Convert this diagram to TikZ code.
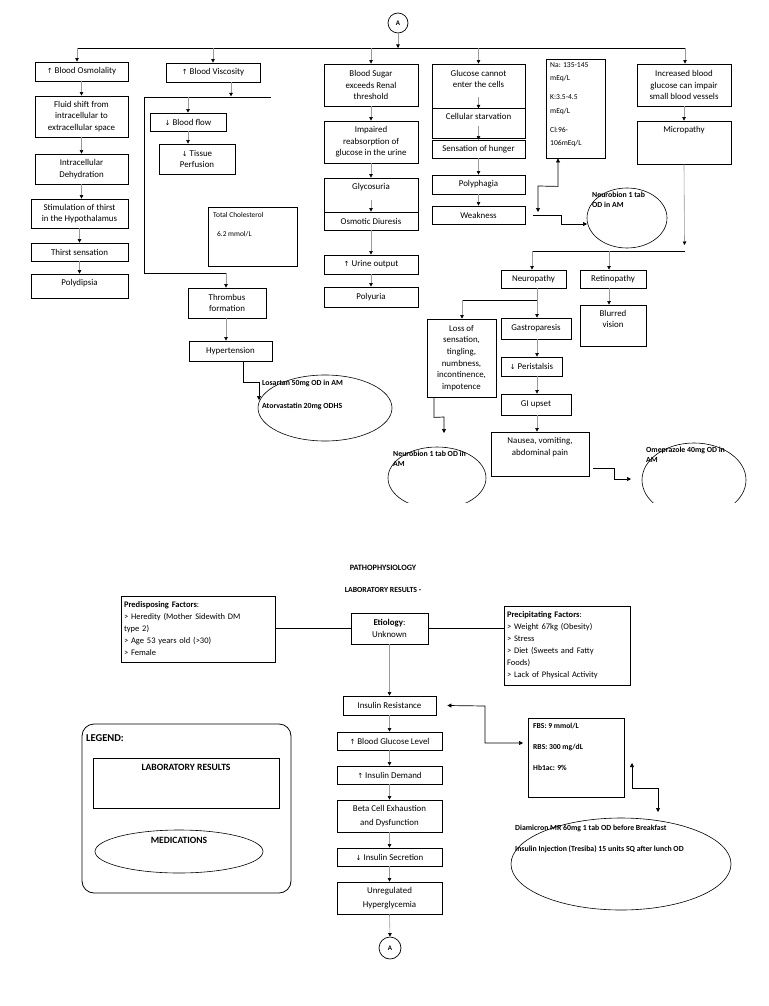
\documentclass[tikz,border=0pt]{standalone}
\usepackage{fontspec}
\setmainfont{Carlito}
\newfontfamily\arrfont{DejaVu Sans}
\usetikzlibrary{arrows.meta,shapes.geometric,calc}
\newcommand\fs{\fontsize{8.9}{11.6}\selectfont}
\newcommand\fsb{\fontsize{8.5}{12}\selectfont}
\newcommand\ms{\fontsize{7.8}{10}\selectfont\bfseries}
\newcommand\upa{{\arrfont\fontsize{7}{7}\selectfont ↑}}
\newcommand\dna{{\arrfont\fontsize{7}{7}\selectfont ↓}}
\newcommand\mybox[6]{\node[box, minimum width={#3-#2}, minimum height={#5-#4}] (#1) at ({(#2+#3)/2},{(#4+#5)/2}) {#6};}
\tikzset{
  box/.style={draw=black, line width=0.8pt, rectangle, inner sep=1pt, align=center, font=\fs},
  txt/.style={inner sep=0pt, align=center, font=\fs},
  ltxt/.style={inner sep=0pt, align=left, anchor=west},
  arr/.style={draw=black!40, line width=0.6pt, -{Triangle[length=3.5pt,width=3.5pt,color=black]}},
  conn/.style={draw=black, line width=0.7pt},
  carr/.style={draw=black, line width=0.7pt, -{Triangle[length=4pt,width=4pt]}},
  dcarr/.style={draw=black, line width=0.7pt, {Triangle[length=4pt,width=4pt]}-{Triangle[length=4pt,width=4pt]}},
  ell/.style={draw=black, line width=0.6pt, ellipse, inner sep=0pt},
}
\begin{document}
\begin{tikzpicture}[x=1pt,y=-1pt]
\useasboundingbox (0,0) rectangle (768,1006);
% ================= TOP SECTION =================
\node[circle, draw, line width=0.7pt, minimum size=20pt, inner sep=0pt, font=\bfseries\fontsize{7}{7}\selectfont] (A1) at (398,23) {A};
\coordinate (jA) at (398,48);
\coordinate (hL) at (77,48);
\coordinate (hR) at (685,48);
\coordinate (h2) at (213,48);
\coordinate (h3) at (371,48);
\coordinate (h4) at (478.5,48);
\draw[arr] (A1) -- (jA);
\draw[conn] (hL) -- (hR);

% column 1
\mybox{osm}{35}{128}{62}{81}{\upa\ Blood Osmolality}
\mybox{fluid}{35}{128}{96}{137}{Fluid shift from\\intracellular to\\extracellular space}
\mybox{dehyd}{35}{128}{154}{184}{Intracellular\\Dehydration}
\mybox{stim}{31}{128}{199}{228}{Stimulation of thirst\\in the Hypothalamus}
\mybox{thirst}{31}{128}{243}{261}{Thirst sensation}
\mybox{polyd}{31}{128}{274}{298}{}
\node[txt] (polydt) at (79.5,283) {Polydipsia};
\draw[arr] (hL) -- (hL |- osm.north);
\draw[arr] (osm.south) -- (osm.south |- fluid.north);
\draw[arr] (fluid.south) -- (fluid.south |- dehyd.north);
\draw[arr] (dehyd.south) -- (dehyd.south |- stim.north);
\draw[arr] (stim.south) -- (stim.south |- thirst.north);
\draw[arr] (thirst.south) -- (thirst.south |- polyd.north);

% column 2
\mybox{visc}{166}{260}{63}{82}{\upa\ Blood Viscosity}
\mybox{flow}{150}{226}{113}{131}{\dna\ Blood flow}
\mybox{tissue}{159}{235}{144}{174}{\dna\ Tissue\\Perfusion}
\mybox{chol}{208}{297}{207}{266}{}
\node[ltxt, font=\fontsize{7.4}{9}\selectfont] (cholt1) at (213,215) {Total Cholesterol};
\node[ltxt, font=\fontsize{7.4}{9}\selectfont] (cholt2) at (217,234) {6.2 mmol/L};
\mybox{thromb}{188}{266}{288}{318}{Thrombus\\formation}
\mybox{hyper}{189}{272}{341}{361}{Hypertension}
\coordinate (vL) at (144,97);
\coordinate (vR) at (271,97);
\coordinate (vF) at (188,97);
\coordinate (vB) at (144,273);
\coordinate (vT) at (226,273);
\draw[arr] (h2) -- (visc.north);
\draw[arr] ([xshift=18pt]visc.south) -- ++(0,14);
\draw[conn] (vL) -- (vR);
\draw[arr] (vF) -- (flow.north);
\draw[arr] (flow.south) -- (flow.south |- tissue.north);
\draw[conn] (vL) -- (vB) -- (vT);
\draw[arr] (vT) -- (vT |- thromb.north);
\draw[arr] ([xshift=-1pt]thromb.south) -- ([xshift=-1pt]thromb.south |- hyper.north);
\node[ell, minimum width=134, minimum height=66] (ell1) at (325,408) {};
\node[ltxt, font=\ms] (ell1a) at (262,383) {Losartan 50mg OD in AM};
\node[ltxt, font=\ms] (ell1b) at (262,406) {Atorvastatin 20mg ODHS};
\draw[carr] ([xshift=12.5pt]hyper.south) -- ++(0,21) -| (259,400);

% column 3
\mybox{sugar}{324}{418}{64}{106}{Blood Sugar\\exceeds Renal\\threshold}
\mybox{impair}{324}{418}{121}{163}{Impaired\\reabsorption of\\glucose in the urine}
\mybox{glyco}{324}{418}{178}{212}{}
\node[txt] (glycot) at (371,187) {Glycosuria};
\mybox{osmo}{324}{418}{212}{230}{Osmotic Diuresis}
\mybox{urine}{324}{418}{255}{274}{\upa\ Urine output}
\mybox{polyu}{324}{418}{287}{307}{Polyuria}
\draw[arr] (h3) -- (sugar.north);
\draw[arr] (sugar.south) -- (impair.north);
\draw[arr] (impair.south) -- (glyco.north);
\draw[arr] ([yshift=12pt]glyco.south) -- (osmo.north);
\draw[arr] (osmo.south) -- (urine.north);
\draw[arr] (urine.south) -- (polyu.north);

% column 4
\mybox{gluc}{432}{525}{64}{108}{}
\node[txt] (glucst) at (478.5,79) {Glucose cannot\\enter the cells};
\mybox{starv}{432}{525}{108}{138}{}
\node[txt] (starvt) at (478.5,116) {Cellular starvation};
\mybox{hunger}{432}{525}{140}{158}{Sensation of hunger}
\mybox{polyph}{432}{525}{175}{194}{Polyphagia}
\mybox{weak}{432}{525}{206}{224}{Weakness}
\draw[arr] (h4) -- (gluc.north);
\draw[arr] ([yshift=11pt]gluc.south) -- (gluc.south);
\draw[arr] ([yshift=12pt]starv.south) -- (hunger.north);
\draw[arr] (hunger.south) -- (polyph.north);
\draw[arr] (polyph.south) -- (weak.north);

% Na box
\mybox{na}{546}{605}{59}{158}{}
\node[ltxt, anchor=north west, font=\fontsize{7.6}{13.5}\selectfont] (nat) at (550,62) {Na: 135-145\\mEq/L\\[5.5pt]K:3.5-4.5\\mEq/L\\[5.5pt]Cl:96-\\106mEq/L};

% neurobion 1
\node[ell, minimum width=80, minimum height=60] (nb1) at (627,218) {};
\node[ltxt, anchor=north west, font=\ms] (nb1t) at (592,192) {Neurobion 1 tab\\OD in AM};
\coordinate (nb1in) at (587,224);
\draw[carr] ([xshift=8pt]weak.east) -- (561,215) -- (561,224) -- (nb1in);
\draw[dcarr] ([xshift=-17.5pt]na.south) -- ++(0,28) -- (538,186) -- (538,212);

% column 5
\mybox{incr}{637}{731}{64}{106}{Increased blood\\glucose can impair\\small blood vessels}
\mybox{micro}{637}{731}{121}{164}{}
\node[txt] (microt) at (684,130) {Micropathy};
\draw[arr] (hR) -- (hR |- incr.north);
\draw[arr] (incr.south) -- (micro.north);
\coordinate (mB) at (684.5,245);
\draw[arr] (micro.south) -- (mB);
\coordinate (nL) at (532,251);
\coordinate (nR) at (685,251);
\coordinate (nM) at (609,251);
\draw[conn] (nL) -- (nR);

\mybox{neurop}{501}{566}{270}{288}{Neuropathy}
\mybox{retin}{580}{646}{270}{288}{Retinopathy}
\mybox{blur}{580}{646}{305}{346}{}
\node[txt] (blurt) at (613,319) {Blurred\\vision};
\draw[arr] (nL) -- (nL |- neurop.north);
\draw[arr] (nM) -- (nM |- retin.north);
\draw[arr] (nM |- retin.south) -- (nM |- blur.north);

\mybox{loss}{427}{496}{319}{397}{Loss of\\sensation,\\tingling,\\numbness,\\incontinence,\\impotence}
\mybox{gastro}{501}{571}{318}{339}{Gastroparesis}
\mybox{peri}{501}{562}{357}{376}{\dna\ Peristalsis}
\mybox{giup}{501}{571}{394}{415}{GI upset}
\mybox{nausea}{491}{589}{432}{476}{}
\node[txt] (nauseat) at (540,447) {Nausea, vomiting,\\abdominal pain};
\coordinate (gS) at (537,300);
\coordinate (gL) at (462,300);
\draw[arr] (gS |- neurop.south) -- (gS |- gastro.north);
\draw[conn] (gL) -- (gS);
\draw[arr] (gL) -- (gL |- loss.north);
\draw[arr] (gS |- gastro.south) -- (gS |- peri.north);
\draw[arr] (gS |- peri.south) -- (gS |- giup.north);
\draw[arr] (gS |- giup.south) -- (gS |- nausea.north);

\begin{scope}
\clip (0,0) rectangle (768,502);
\node[ell, minimum width=98, minimum height=62] (nb2) at (437,478) {};
\node[ell, minimum width=104, minimum height=74] (omep) at (694,480) {};
\end{scope}
\node[ltxt, anchor=north west, font=\ms] (nb2t) at (393,451) {Neurobion 1 tab OD in\\AM};
\node[ltxt, anchor=north west, font=\ms] (omept) at (646,447) {Omeprazole 40mg OD in\\AM};
\draw[carr] ([xshift=-27.5pt]loss.south) -- ++(0,20) -- (444,417) -- (444,433);
\draw[carr] ([shift={(4pt,-14pt)}]nausea.east) -- (614,468) -- (614,479) -- (631,479);

% ================= BOTTOM SECTION =================
\node[font=\bfseries\fontsize{8.2}{9}\selectfont, inner sep=0pt] (title) at (383,568) {PATHOPHYSIOLOGY};
\node[font=\bfseries\fontsize{7.8}{9}\selectfont, inner sep=0pt] (sub) at (383,590) {LABORATORY RESULTS -};

\node[box, minimum width=154, minimum height=66, align=left, text width=148, font=\fsb] (pred) at (198,629) {\textbf{Predisposing Factors}:\\> Heredity (Mother Sidewith DM\\type 2)\\> Age 53 years old (>30)\\> Female};
\mybox{etio}{351}{428}{613}{644}{\textbf{Etiology}:\\Unknown}
\node[box, minimum width=126, minimum height=79, align=left, text width=120, font=\fsb] (prec) at (567,645.5) {\textbf{Precipitating Factors}:\\> Weight 67kg (Obesity)\\> Stress\\> Diet (Sweets and Fatty\\Foods)\\> Lack of Physical Activity};
\draw[conn] (pred.east |- etio.west) -- (etio.west);
\draw[conn] (etio.east) -- (etio.east -| prec.west);

\mybox{ires}{343}{436}{696}{715}{Insulin Resistance}
\mybox{bgl}{337}{442}{732}{750}{\upa\ Blood Glucose Level}
\mybox{idem}{337}{442}{766}{784}{\upa\ Insulin Demand}
\node[box, minimum width=105, minimum height=32, font=\fontsize{8.9}{14}\selectfont] (beta) at (389.5,816) {Beta Cell Exhaustion\\and Dysfunction};
\mybox{isec}{337}{442}{848}{866}{\dna\ Insulin Secretion}
\node[box, minimum width=105, minimum height=32, font=\fontsize{8.9}{14}\selectfont] (unreg) at (389.5,898) {Unregulated\\Hyperglycemia};
\node[circle, draw, line width=0.7pt, minimum size=22pt, inner sep=0pt, font=\bfseries\fontsize{7}{7}\selectfont] (A2) at (390,948) {A};
\draw[arr] (etio.south) -- (ires.north);
\draw[arr] (ires.south) -- (bgl.north);
\draw[arr] (bgl.south) -- (idem.north);
\draw[arr] (idem.south) -- (beta.north);
\draw[arr] (beta.south) -- (isec.north);
\draw[arr] (isec.south) -- (unreg.north);
\draw[arr] (unreg.south) -- (A2.north);

\mybox{fbs}{528}{624}{718}{797}{}
\node[ltxt, font=\fontsize{7.6}{9}\selectfont\bfseries] (fbs1) at (533,726) {FBS: 9 mmol/L};
\node[ltxt, font=\fontsize{7.6}{9}\selectfont\bfseries] (fbs2) at (533,747) {RBS: 300 mg/dL};
\node[ltxt, font=\fontsize{7.6}{9}\selectfont\bfseries] (fbs3) at (533,768) {Hb1ac: 9\%};
\coordinate (fbsin) at (523,743);
\draw[dcarr] ([xshift=11pt]ires.east) -- (485,706) -- (485,743) -- (fbsin);

\node[ell, minimum width=220, minimum height=92] (med) at (621,864) {};
\node[ltxt, font=\ms] (med1) at (515,828) {Diamicron MR 60mg 1 tab OD before Breakfast};
\node[ltxt, font=\ms] (med2) at (515,849) {Insulin Injection (Tresiba) 15 units SQ after lunch OD};
\coordinate (fbsup) at (632,763);
\coordinate (medin) at (658,812);
\draw[dcarr] (fbsup) -- (632,788) -- (658,788) -- (medin);

% legend
\node[draw=black, line width=0.8pt, rounded corners=12pt, minimum width=209, minimum height=169, inner sep=0pt] (leg) at (186.5,808.5) {};
\node[ltxt, font=\bfseries\fontsize{10.5}{12}\selectfont] (legt) at (86,738) {LEGEND:};
\mybox{legbox}{93}{279}{758}{808}{}
\node[txt, font=\bfseries\fontsize{9.6}{11}\selectfont] (legboxt) at (186,767) {LABORATORY RESULTS};
\node[ell, minimum width=168, minimum height=43] (legell) at (179,851.5) {};
\node[txt, font=\bfseries\fontsize{9.6}{11}\selectfont] (legellt) at (179,840) {MEDICATIONS};
\end{tikzpicture}
\end{document}
